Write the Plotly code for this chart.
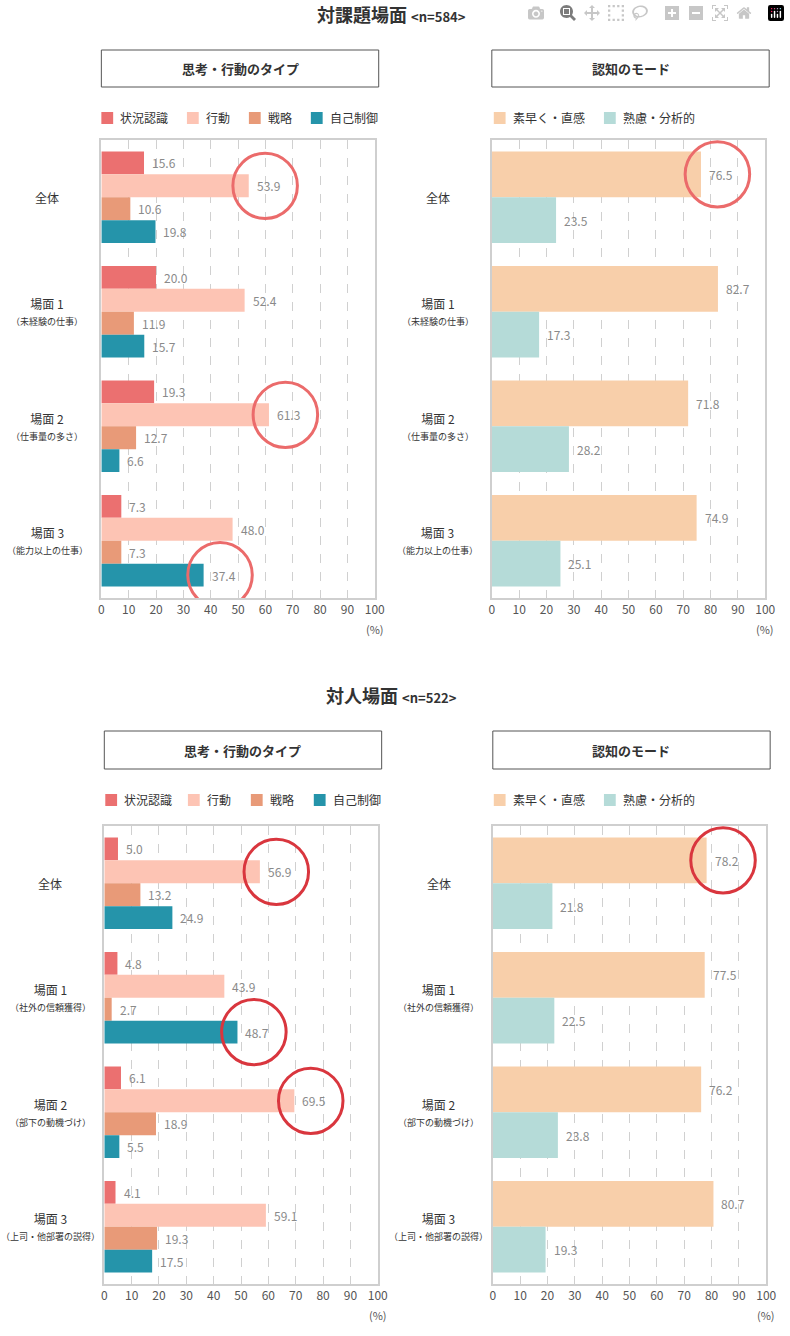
import plotly.graph_objects as go

W, H = 790, 1336
FONT = "Noto Sans CJK JP"

cats_task = ["全体", "場面 1", "場面 2", "場面 3"]
subs_task = ["", "（未経験の仕事）", "（仕事量の多さ）", "（能力以上の仕事）"]
cats_person = ["全体", "場面 1", "場面 2", "場面 3"]
subs_person = ["", "（社外の信頼獲得）", "（部下の動機づけ）", "（上司・他部署の説得）"]

type_names = ["状況認識", "行動", "戦略", "自己制御"]
type_colors = ["#EB7070", "#FDC4B4", "#E89A78", "#2594AA"]
mode_names = ["素早く・直感", "熟慮・分析的"]
mode_colors = ["#F8CFAA", "#B5DBD8"]

task_type = [[15.6, 20.0, 19.3, 7.3], [53.9, 52.4, 61.3, 48.0],
             [10.6, 11.9, 12.7, 7.3], [19.8, 15.7, 6.6, 37.4]]
task_mode = [[76.5, 82.7, 71.8, 74.9], [23.5, 17.3, 28.2, 25.1]]
person_type = [[5.0, 4.8, 6.1, 4.1], [56.9, 43.9, 69.5, 59.1],
               [13.2, 2.7, 18.9, 19.3], [24.9, 48.7, 5.5, 17.5]]
person_mode = [[78.2, 77.5, 76.2, 80.7], [21.8, 22.5, 23.8, 19.3]]

x_ticks = list(range(0, 101, 10))

# highlight circles: (panel, series index, category index, color)
circles = [(0, 1, 0, "#EB6B6B"), (0, 1, 2, "#EB6B6B"), (0, 3, 3, "#EB6B6B"),
           (1, 0, 0, "#EB6B6B"),
           (2, 1, 0, "#D9363E"), (2, 3, 1, "#D9363E"), (2, 1, 2, "#D9363E"),
           (3, 0, 0, "#D9363E")]

panels = [
    dict(px=(100, 378), py=(140, 598), cats=cats_task, subs=subs_task, data=task_type,
         names=type_names, colors=type_colors, header="思考・行動のタイプ", hy=(50, 87),
         legx=[100, 187, 250, 313], legy=118),
    dict(px=(497, 775), py=(140, 598), cats=cats_task, subs=subs_task, data=task_mode,
         names=mode_names, colors=mode_colors, header="認知のモード", hy=(50, 87),
         legx=[499, 611], legy=118),
    dict(px=(103, 381), py=(826, 1284), cats=cats_person, subs=subs_person, data=person_type,
         names=type_names, colors=type_colors, header="思考・行動のタイプ", hy=(731, 769),
         legx=[104, 188, 252, 316], legy=800),
    dict(px=(498, 776), py=(826, 1284), cats=cats_person, subs=subs_person, data=person_mode,
         names=mode_names, colors=mode_colors, header="認知のモード", hy=(731, 769),
         legx=[499, 611], legy=800),
]

def fx(p): return p / W
def fy(p): return 1 - p / H

fig = go.Figure()
shapes, annos = [], []
layout = {}

for i, p in enumerate(panels):
    n = i + 1
    xa, ya = ("x" if n == 1 else f"x{n}"), ("y" if n == 1 else f"y{n}")
    nser = len(p["data"])
    w = 0.8 / nser
    for s, (name, vals, col) in enumerate(zip(p["names"], p["data"], p["colors"])):
        fig.add_trace(go.Bar(
            y=list(range(len(p["cats"]))), x=vals, orientation="h", name=name,
            marker=dict(color=col, line=dict(width=0)),
            xaxis=xa, yaxis=ya, showlegend=False, offsetgroup=name))
        for k, v in enumerate(vals):
            annos.append(dict(x=v, xref=xa, y=k - 0.4 + w * (s + 0.5), yref=ya,
                              text=f"{v:.1f}", showarrow=False, xanchor="left",
                              yanchor="middle", xshift=6,
                              font=dict(color="#8a8a8a", size=12, family=FONT)))
    layout[f"xaxis{'' if n == 1 else n}"] = dict(
        domain=[fx(p["px"][0]), fx(p["px"][1])], range=[0, 100], anchor=ya,
        tickvals=x_ticks, ticktext=[str(t) for t in x_ticks],
        showgrid=True, gridcolor="#d0d0d0", griddash="dash", gridwidth=1,
        showline=True, linecolor="#cfcfcf", linewidth=2, mirror=True, zeroline=False,
        tickfont=dict(size=12, color="#555", family=FONT), ticks="")
    layout[f"yaxis{'' if n == 1 else n}"] = dict(
        domain=[fy(p["py"][1]), fy(p["py"][0])], anchor=xa,
        range=[len(p["cats"]) - 0.5, -0.5], showticklabels=False, showgrid=False,
        zeroline=False, showline=True, linecolor="#cfcfcf", linewidth=2, mirror=True)
    for k, (c, s) in enumerate(zip(p["cats"], p["subs"])):
        txt = c if not s else f"{c}<br><span style='font-size:9px'>{s}</span>"
        annos.append(dict(x=fx(p["px"][0] - 55), xref="paper", y=k, yref=ya,
                          text=txt, showarrow=False, xanchor="center", yanchor="middle",
                          font=dict(size=12, color="#333", family=FONT)))
    annos.append(dict(x=fx(p["px"][1]), xref="paper", y=fy(p["py"][1] + 31), yref="paper",
                      text="(%)", showarrow=False, xanchor="center", yanchor="middle",
                      font=dict(size=11, color="#555", family=FONT)))
    shapes.append(dict(type="rect", xref="paper", yref="paper",
                       x0=fx(p["px"][0]), x1=fx(p["px"][1] + 4),
                       y0=fy(p["hy"][1]), y1=fy(p["hy"][0]),
                       line=dict(color="#555", width=1), fillcolor="white"))
    annos.append(dict(x=fx((p["px"][0] + p["px"][1] + 4) / 2), xref="paper",
                      y=fy((p["hy"][0] + p["hy"][1]) / 2), yref="paper",
                      xanchor="center", yanchor="middle",
                      text=f"<b>{p['header']}</b>", showarrow=False,
                      font=dict(size=13, color="#333", family=FONT)))
    for lx, name, col in zip(p["legx"], p["names"], p["colors"]):
        shapes.append(dict(type="rect", xref="paper", yref="paper",
                           x0=fx(lx), x1=fx(lx + 12), y0=fy(p["legy"] + 6), y1=fy(p["legy"] - 6),
                           fillcolor=col, line=dict(width=0)))
        annos.append(dict(x=fx(lx + 17), xref="paper", y=fy(p["legy"]), yref="paper",
                          text=name, showarrow=False, xanchor="left", yanchor="middle",
                          font=dict(size=12, color="#333", family=FONT)))

for panel, s, k, col in circles:
    p = panels[panel]
    n = panel + 1
    xa, ya = ("x" if n == 1 else f"x{n}"), ("y" if n == 1 else f"y{n}")
    nser = len(p["data"])
    w = 0.8 / nser
    yc = k - 0.4 + w * (s + 0.5)
    xc = p["data"][s][k] + 6
    rx, ry = 11.8, 0.285
    shapes.append(dict(type="circle", xref=xa, yref=ya, x0=xc - rx, x1=xc + rx,
                       y0=yc - ry, y1=yc + ry, line=dict(color=col, width=3)))

annos.append(dict(x=0.5, xref="paper", y=fy(14), yref="paper", showarrow=False,
                  xanchor="center", yanchor="middle",
                  text="<b>対課題場面</b> <span style='font-size:13px'><b>&lt;n=584&gt;</b></span>",
                  font=dict(size=18, color="#333", family=FONT)))
annos.append(dict(x=0.5, xref="paper", y=fy(695), yref="paper", showarrow=False,
                  xanchor="center", yanchor="middle",
                  text="<b>対人場面</b> <span style='font-size:13px'><b>&lt;n=522&gt;</b></span>",
                  font=dict(size=18, color="#333", family=FONT)))

fig.update_layout(width=W, height=H, margin=dict(l=0, r=0, t=0, b=0),
                  paper_bgcolor="white", plot_bgcolor="white",
                  barmode="group", bargap=0.2, bargroupgap=0,
                  shapes=shapes, annotations=annos, font=dict(family=FONT), **layout)
fig.write_html("out.html")
with open("out.html", encoding="utf-8") as f:
    html = f.read()
html = html.replace("<body>", "<body style=\"margin:0;overflow:hidden\">", 1)
with open("out.html", "w", encoding="utf-8") as f:
    f.write(html)
